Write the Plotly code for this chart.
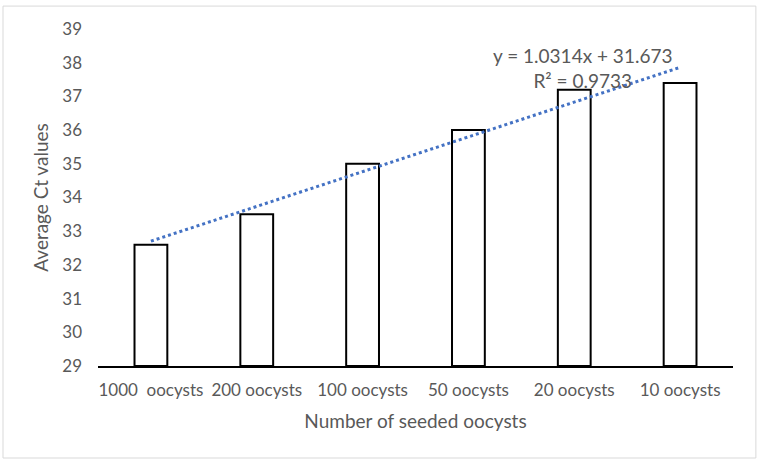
import plotly.graph_objects as go

categories = ["1000\u00a0 oocysts", "200 oocysts", "100 oocysts", "50 oocysts", "20 oocysts", "10 oocysts"]
ct_values = [32.6, 33.5, 35.0, 36.0, 37.2, 37.4]
trend_slope = 1.0314
trend_intercept = 31.673
r_squared = 0.9733
y_ticks = list(range(29, 40))

xs = list(range(1, len(categories) + 1))
trend_y = [trend_slope * x + trend_intercept for x in xs]

font_family = "Lato, 'Open Sans', sans-serif"
gray = "#595959"

fig = go.Figure()
fig.add_trace(go.Bar(
    x=xs, y=[v - 29 for v in ct_values], base=29,
    width=0.31,
    marker=dict(color="white", line=dict(color="black", width=2)),
    showlegend=False, hoverinfo="skip",
))
fig.add_trace(go.Scatter(
    x=[xs[0], xs[-1]], y=[trend_y[0], trend_y[-1]],
    mode="lines",
    line=dict(color="#4472C4", width=3, dash="dot"),
    showlegend=False,
))

fig.add_annotation(
    x=5.08, y=37.84, xref="x", yref="y",
    text=f"y = {trend_slope}x + {trend_intercept}<br>R² = {r_squared}",
    showarrow=False, align="center",
    font=dict(family=font_family, size=19, color=gray),
)

fig.add_shape(type="rect", xref="paper", yref="paper",
              x0=-0.1496, x1=1.036, y0=-0.273, y1=1.068,
              line=dict(color="#d9d9d9", width=1), layer="below")

fig.update_layout(
    width=762, height=464,
    margin=dict(l=98, r=29, t=29, b=98),
    paper_bgcolor="white", plot_bgcolor="white",
    font=dict(family=font_family, size=17, color=gray),
    xaxis=dict(
        range=[0.5, 6.5], tickvals=xs, ticktext=categories,
        showgrid=False, zeroline=False,
        showline=True, linecolor="black", linewidth=2,
        ticks="", ticklen=0,
        tickfont=dict(size=17, color=gray),
        ticklabelstandoff=8,
        title=dict(text="Number of seeded oocysts", font=dict(size=19, color=gray), standoff=15),
    ),
    yaxis=dict(
        range=[29, 39], tickvals=y_ticks,
        showgrid=False, zeroline=False, showline=False,
        ticks="", tickfont=dict(size=17, color=gray),
        ticklabelstandoff=15,
        title=dict(text="Average Ct values", font=dict(size=19, color=gray), standoff=8),
    ),
)

fig.write_html("out.html", config={"displayModeBar": False},
               post_script="document.body.style.margin='0px';")
